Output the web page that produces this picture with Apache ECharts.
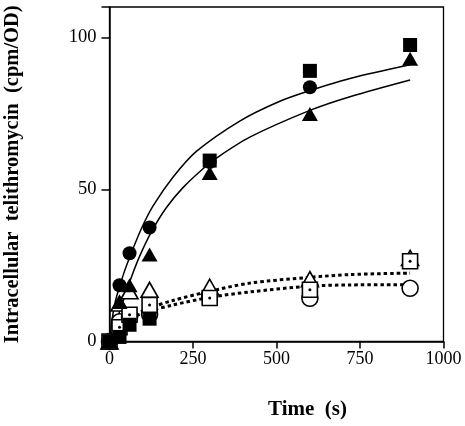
<!DOCTYPE html>
<html>
<head>
<meta charset="utf-8">
<script src="https://cdn.jsdelivr.net/npm/echarts@6/dist/echarts.min.js"></script>
<style>html,body{margin:0;padding:0;background:#fff}#c{width:465px;height:426px}</style>
</head>
<body>
<div id="c"></div>
<script>
// ---- data ----
var times = [0, 30, 60, 120, 300, 600, 900];
var filledSquare   = [0, 1.5, 5.5, 7.5, 59.5, 89, 97.5];
var filledCircle   = [0, 18.5, 29, 37.5, 59, 83.6, null];
var filledTriangle = [0, 13, 18.5, 28.6, 55.4, 74.8, 93];
var openSquare     = [0, 4.7, 8.8, 12, 14.3, 17, 26.4];
var openCircle     = [0, 6.5, 8, 9, 15, 14.2, 17.5];
var openTriangle   = [0, 12.5, 16.5, 17, 18, 20.5, 27.5];

var solidUpperT = [0, 15, 40, 65, 95, 130, 190, 260, 390, 510, 600, 720, 900];
var solidUpperV = [0, 12, 21.5, 29, 37, 44.5, 54, 62.5, 72.5, 79, 82.5, 86.5, 91];
var solidLowerT = [0, 40, 65, 90, 125, 170, 220, 280, 320, 420, 600, 720, 900];
var solidLowerV = [0, 13, 21, 28, 36, 44, 50.6, 56.8, 60.3, 67.2, 76, 80.5, 86];

var dotT      = [0, 20, 60, 120, 190, 300, 420, 600, 720, 900];
var dotUpperV = [0, 5, 8, 11, 13.5, 16.5, 19.2, 21.1, 22, 22.5];
var dotLowerV = [0, 4.5, 7.5, 10, 12, 14.5, 16.3, 18.2, 18.6, 18.7];

var xTicks = [0, 250, 500, 750, 1000];
var yTicks = [0, 50, 100];

function pairs(xs, ys) {
  var out = [];
  xs.forEach(function (x, i) { if (ys[i] !== null) out.push([x, ys[i]]); });
  return out;
}

var FONT = 'Liberation Serif';
var chart = echarts.init(document.getElementById('c'));

function curve(xs, ys, dotted) {
  return {
    type: 'line', data: pairs(xs, ys), showSymbol: false, symbol: 'none',
    smooth: 0.3, z: 2, silent: true,
    lineStyle: dotted ? { color: '#000', width: 3, type: [3.5, 3] } : { color: '#000', width: 1.5 }
  };
}
function marks(ys, symbol, size, filled) {
  return {
    type: 'scatter', data: pairs(times, ys), symbol: symbol, symbolSize: size, z: 3,
    itemStyle: filled ? { color: '#000', borderColor: '#000', borderWidth: 0, opacity: 1 }
                      : { color: '#fff', borderColor: '#000', borderWidth: 1.6, opacity: 1 }
  };
}

chart.setOption({
  animation: false,
  grid: { left: 109.5, right: 21.5, top: 7, bottom: 84.5, show: true, borderColor: '#000', borderWidth: 1.3,
          containLabel: false, outerBoundsMode: 'none' },
  xAxis: {
    type: 'value', min: 0, max: 1000, interval: 250,
    name: 'Time  (s)', nameLocation: 'middle', nameGap: 58,
    nameTextStyle: { fontFamily: FONT, fontWeight: 'bold', fontSize: 21, color: '#000', padding: [0, 0, 0, 62] },
    axisLine: { show: true, lineStyle: { color: '#000', width: 1.5 } },
    axisTick: { show: true, length: 7, inside: false, lineStyle: { color: '#000', width: 1.5 } },
    axisLabel: { margin: 9, fontFamily: FONT, fontSize: 18, color: '#000',
      formatter: function (v) { return xTicks.indexOf(v) >= 0 ? String(v) : ''; } },
    splitLine: { show: false }
  },
  yAxis: {
    type: 'value', min: 0, max: 110, interval: 50,
    name: 'Intracellular  telithromycin  (cpm/OD)', nameLocation: 'middle', nameGap: 86,
    nameTextStyle: { fontFamily: FONT, fontWeight: 'bold', fontSize: 20.5, color: '#000' },
    axisLine: { show: true, lineStyle: { color: '#000', width: 1.5 } },
    axisTick: { show: true, length: 8, inside: false, lineStyle: { color: '#000', width: 1.5 } },
    axisLabel: { margin: 13, fontFamily: FONT, fontSize: 18.5, color: '#000',
      formatter: function (v) { return yTicks.indexOf(v) >= 0 ? String(v) : ''; } },
    splitLine: { show: false }
  },
  series: [
    curve(solidUpperT, solidUpperV, false),
    curve(solidLowerT, solidLowerV, false),
    curve(dotT, dotUpperV, true),
    curve(dotT, dotLowerV, true),
    marks(openCircle, 'circle', 16, false),
    marks(openTriangle, 'triangle', [17, 15], false),
    marks(openSquare, 'rect', 15, false),
    marks(openSquare, 'circle', 3, true),
    marks(filledCircle, 'circle', 14, true),
    marks(filledTriangle, 'triangle', [16, 14], true),
    marks(filledSquare, 'rect', 14, true)
  ]
});
</script>
</body>
</html>
